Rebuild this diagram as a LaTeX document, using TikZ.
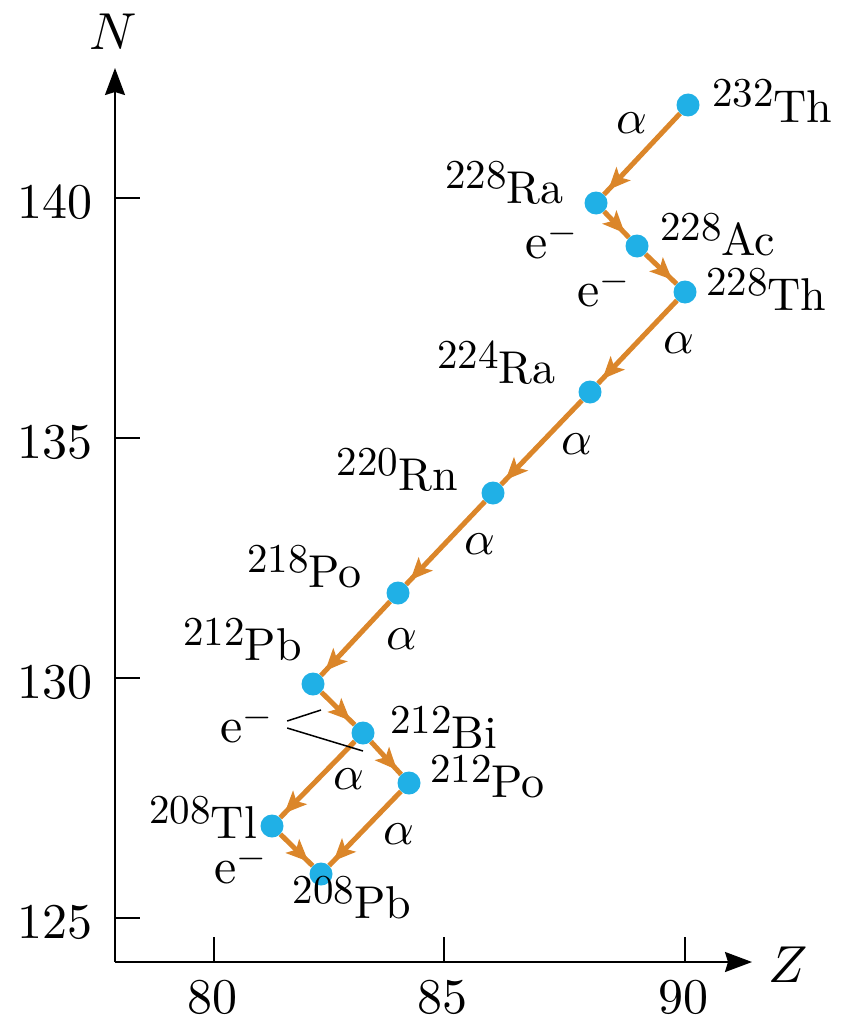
\documentclass[tikz,border=0pt]{standalone}
\usepackage{fontspec}
\setmainfont{lmroman10}[Extension=.otf, UprightFont=*-regular, ItalicFont=*-italic,
  BoldFont=*-bold, BoldItalicFont=*-bolditalic]
\usetikzlibrary{arrows.meta,decorations.markings}

% scalable math italic and symbols
\DeclareFontShape{OML}{cmm}{m}{it}{<->cmmi10}{}
\DeclareFontShape{OMS}{cmsy}{m}{n}{<->cmsy10}{}

\definecolor{decayorange}{RGB}{219,134,42}
\definecolor{nuclidecyan}{RGB}{32,176,230}

\newcommand\isofont{\fontsize{46}{52}\selectfont}
\newcommand\supfont{\fontsize{41}{46}\selectfont}
\newcommand\iso[2]{\raisebox{15pt}[20pt]{\supfont #1}#2}
\newcommand\elec{{\fontsize{50}{56}\selectfont e}\raisebox{15pt}[20pt]{\fontsize{38}{42}\selectfont$-$}}

\tikzset{
  nuclide/.style={circle, fill=nuclidecyan, inner sep=0pt, minimum size=23pt},
  decay/.style={color=decayorange, line width=5pt, postaction={decorate},
    decoration={markings, mark=at position -6pt with {\arrow{Stealth[length=22pt,width=19pt,inset=5pt]}}}},
  isolabel/.style={font=\isofont, inner sep=0pt},
  ticklabel/.style={font=\fontsize{50}{56}\selectfont, inner sep=0pt},
  axislabel/.style={font=\fontsize{52}{58}\selectfont, inner sep=0pt},
  modelabel/.style={font=\fontsize{48}{54}\selectfont, inner sep=0pt},
  axis/.style={line width=2pt},
  leader/.style={line width=1.5pt}
}

\begin{document}
\begin{tikzpicture}[x=1pt, y=-1pt]
  \useasboundingbox (0,0) rectangle (843,1022);

  %% axes
  \coordinate (O) at (115,962);
  \coordinate (Ntip) at (115,68);
  \coordinate (Ztip) at (752,962);
  \draw[axis, -{Stealth[length=27pt,width=20pt,inset=3pt]}] (O) -- (Ntip);
  \draw[axis, -{Stealth[length=27pt,width=20pt,inset=3pt]}] (O) -- (Ztip);
  \node[axislabel] (Nlab) at (113,32) {$N$};
  \node[axislabel] (Zlab) at (788,965) {$Z$};

  \foreach \y/\lab in {198/140, 438/135, 678/130, 918/125} {
    \draw[axis] (115,\y) -- (140,\y);
    \node[ticklabel, anchor=east] (n\lab) at (93,\y+4) {\lab};
  }
  \foreach \x/\lab in {214/80, 444/85, 685/90} {
    \draw[axis] (\x,962) -- (\x,937);
    \node[ticklabel] (z\lab) at (\x-2,997) {\lab};
  }

  %% nuclides
  \node[nuclide] (Th232) at (688,105) {};
  \node[nuclide] (Ra228) at (596,203) {};
  \node[nuclide] (Ac228) at (637,246) {};
  \node[nuclide] (Th228) at (685,292) {};
  \node[nuclide] (Ra224) at (590,392) {};
  \node[nuclide] (Rn220) at (493,493) {};
  \node[nuclide] (Po218) at (398,593) {};
  \node[nuclide] (Pb212) at (313,684) {};
  \node[nuclide] (Bi212) at (363,733) {};
  \node[nuclide] (Po212) at (409,783) {};
  \node[nuclide] (Tl208) at (272,826) {};
  \node[nuclide] (Pb208) at (321,874) {};

  %% decays
  \foreach \a/\b in {Th232/Ra228, Ra228/Ac228, Ac228/Th228, Th228/Ra224,
                     Ra224/Rn220, Rn220/Po218, Po218/Pb212, Pb212/Bi212,
                     Bi212/Po212, Bi212/Tl208, Po212/Pb208, Tl208/Pb208}
    \draw[decay] (\a) -- (\b);

  %% names
  \node[isolabel, anchor=base west] (lTh232) at (712,122) {\iso{232}{Th}};
  \node[isolabel, anchor=base west] (lRa228) at (445,203) {\iso{228}{Ra}};
  \node[isolabel, anchor=base west] (lAc228) at (660,255) {\iso{228}{Ac}};
  \node[isolabel, anchor=base west] (lTh228) at (706,310) {\iso{228}{Th}};
  \node[isolabel, anchor=base west] (lRa224) at (437,383) {\iso{224}{Ra}};
  \node[isolabel, anchor=base east] (lRn220) at (458,490) {\iso{220}{Rn}};
  \node[isolabel, anchor=base west] (lPo218) at (247,587) {\iso{218}{Po}};
  \node[isolabel, anchor=base east] (lPb212) at (302,660) {\iso{212}{Pb}};
  \node[isolabel, anchor=base west] (lBi212) at (390,748) {\iso{212}{Bi}};
  \node[isolabel, anchor=base west] (lPo212) at (430,797) {\iso{212}{Po}};
  \node[isolabel, anchor=base east] (lTl208) at (257,838) {\iso{208}{Tl}};
  \node[isolabel, anchor=base] (lPb208) at (352,918) {\iso{208}{Pb}};

  %% decay modes
  \node[isolabel, anchor=base west] (beta1) at (525,258) {\elec};
  \node[isolabel, anchor=base west] (beta2) at (577,306) {\elec};
  \node[isolabel, anchor=base west] (beta3) at (220,742) {\elec};
  \node[isolabel, anchor=base west] (beta4) at (214,883) {\elec};
  \foreach \n/\p in {1/{632,123}, 2/{679,343}, 3/{577,444}, 4/{480,544},
                     5/{402,639}, 6/{349,779}, 7/{399,834}}
    \node[modelabel] (alpha\n) at (\p) {$\alpha$};

  \coordinate (lead1) at (321,710);
  \coordinate (lead2) at (363,751);
  \draw[leader] ([xshift=15pt,yshift=21pt]beta3.base east) -- (lead1);
  \draw[leader] ([xshift=15pt,yshift=14pt]beta3.base east) -- (lead2);
\end{tikzpicture}
\end{document}
